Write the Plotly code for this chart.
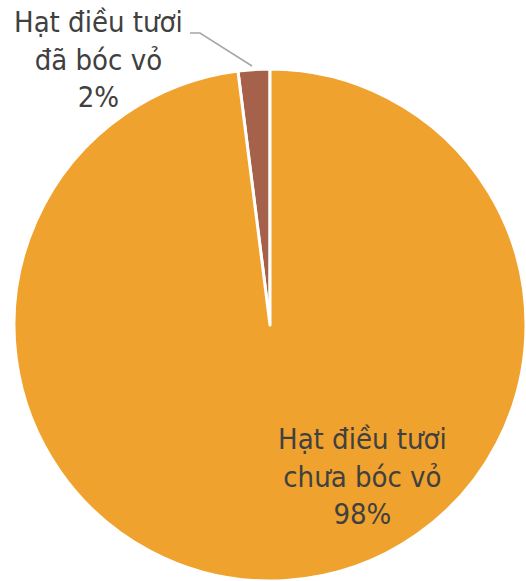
import plotly.graph_objects as go

labels = ["Hạt điều tươi<br>đã bóc vỏ", "Hạt điều tươi<br>chưa bóc vỏ"]
values = [2, 98]
colors = ["#A5614A", "#F0A22E"]

W, H = 526, 581
cx, cy, R = 270, 325, 256  # pie centre / radius in pixels


def px(x):
    return x / W


def py(y):
    return 1 - y / H


# first slice ends at 12 o'clock, so start it 2% of a turn earlier
start = -360 * values[0] / sum(values)

fig = go.Figure(
    go.Pie(
        labels=labels,
        values=values,
        sort=False,
        direction="clockwise",
        rotation=start,
        marker=dict(colors=colors, line=dict(color="white", width=3)),
        textinfo="none",
        hoverinfo="label+percent",
        domain=dict(x=[px(cx - R), px(cx + R)], y=[py(cy + R), py(cy - R)]),
        showlegend=False,
    )
)

font = dict(family="DejaVu Sans Condensed", size=29, color="#404040")
label_pos = [(98, 60), (362, 476)]
for lab, val, (x, y) in zip(labels, values, label_pos):
    fig.add_annotation(
        x=px(x), y=py(y), xref="paper", yref="paper",
        text=f"{lab}<br>{val}%", showarrow=False, font=font,
        align="center", xanchor="center", yanchor="middle",
    )

# leader line for the small slice
fig.add_shape(
    type="path",
    path=f"M {px(190)} {py(33)} L {px(200)} {py(33)} L {px(252)} {py(66)}",
    xref="paper", yref="paper",
    line=dict(color="#A6A6A6", width=1.5),
)

fig.update_layout(
    width=W, height=H,
    margin=dict(l=0, r=0, t=0, b=0),
    paper_bgcolor="white",
    plot_bgcolor="white",
)

fig.write_html(
    "out.html",
    config={"displayModeBar": False},
    post_script="document.body.style.margin='0';",
)
